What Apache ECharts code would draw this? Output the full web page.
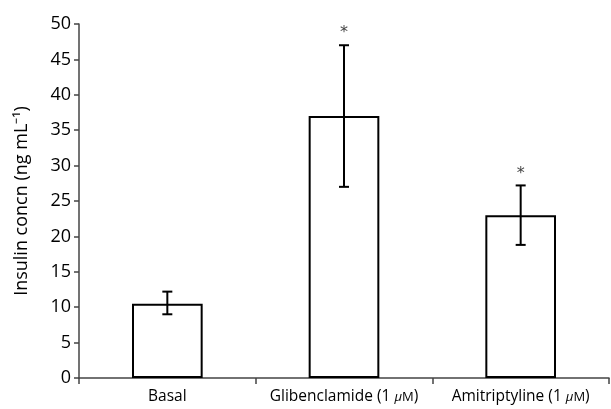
<!DOCTYPE html>
<html>
<head>
<meta charset="utf-8">
<script src="https://cdn.jsdelivr.net/npm/echarts@6/dist/echarts.min.js"></script>
<style>
  html, body { margin: 0; padding: 0; background: #fff; }
  #chart { width: 611px; height: 409px; }
</style>
</head>
<body>
<div id="chart"></div>
<script>
// data
const categories = ["Basal", "Glibenclamide (1 μM)", "Amitriptyline (1 μM)"];
const means = [10.5, 37, 23];
const errLow = [9, 27, 18.8];
const errHigh = [12.2, 47, 27.2];
const signif = ["", "*", "*"];
const yTicks = [0, 5, 10, 15, 20, 25, 30, 35, 40, 45, 50];

const chart = echarts.init(document.getElementById("chart"));

const errData = categories.map((c, i) => [i, errLow[i], errHigh[i], signif[i]]);

const option = {
  animation: false,
  grid: {
    left: 79,
    right: 2,
    top: 24,
    bottom: 31,
  },
  xAxis: {
    type: "category",
    data: categories,
    axisLine: { lineStyle: { color: "#444", width: 1.5 } },
    axisTick: { show: true, length: 6, lineStyle: { color: "#444", width: 1.5 } },
    axisLabel: {
      interval: 0,
      color: "#000",
      fontFamily: "Open Sans",
      fontSize: 15.5,
      margin: 11,
      formatter: (v) => v.replace("μM)", "{mu|μ}{m|M})"),
      rich: {
        mu: { fontStyle: "italic", fontFamily: "Open Sans", fontSize: 13, color: "#000" },
        m: { fontFamily: "Open Sans", fontSize: 13, color: "#000" },
      },
    },
  },
  yAxis: {
    type: "value",
    min: yTicks[0],
    max: yTicks[yTicks.length - 1],
    interval: 5,
    name: "Insulin concn (ng mL⁻¹)",
    nameLocation: "middle",
    nameGap: 48,
    nameRotate: 90,
    nameTextStyle: { color: "#000", fontFamily: "Open Sans", fontSize: 18 },
    axisLine: { show: true, lineStyle: { color: "#444", width: 1.5 } },
    axisTick: { show: true, length: 5, lineStyle: { color: "#444", width: 1.5 } },
    axisLabel: { color: "#000", fontFamily: "Open Sans", fontSize: 18, margin: 8 },
    splitLine: { show: false },
  },
  series: [
    {
      type: "bar",
      data: means,
      barWidth: "40%",
      itemStyle: { color: "#fff", borderColor: "#000", borderWidth: 2 },
    },
    {
      type: "custom",
      data: errData,
      z: 10,
      renderItem: (params, api) => {
        const x = api.value(0);
        const lo = api.coord([x, api.value(1)]);
        const hi = api.coord([x, api.value(2)]);
        const half = 5;
        const style = { stroke: "#000", lineWidth: 2 };
        const children = [
          { type: "line", shape: { x1: hi[0], y1: hi[1], x2: lo[0], y2: lo[1] }, style },
          { type: "line", shape: { x1: hi[0] - half, y1: hi[1], x2: hi[0] + half, y2: hi[1] }, style },
          { type: "line", shape: { x1: lo[0] - half, y1: lo[1], x2: lo[0] + half, y2: lo[1] }, style },
        ];
        const mark = api.value(3);
        if (mark) {
          children.push({
            type: "text",
            style: {
              text: "*",
              x: hi[0],
              y: hi[1] - 12,
              fill: "#444",
              font: "16px 'DejaVu Sans'",
              align: "center",
              verticalAlign: "middle",
            },
          });
        }
        return { type: "group", children };
      },
    },
  ],
};

chart.setOption(option);
</script>
</body>
</html>
